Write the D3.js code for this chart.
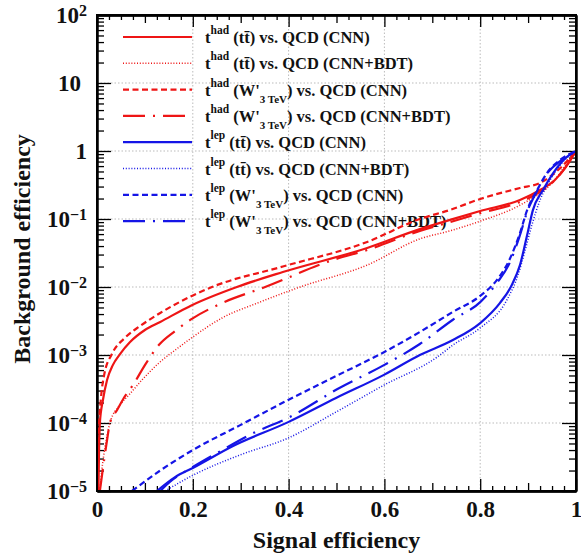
<!DOCTYPE html>
<html>
<head>
<meta charset="utf-8">
<script src="https://cdn.jsdelivr.net/npm/d3@7"></script>
<style>
  body { margin: 0; background: #fff; }
</style>
</head>
<body>
<div id="chart"></div>
<script>
// courbes ROC : efficacite signal (x) / efficacite bruit de fond (y)
var hadTtCnnX = [0.003, 0.004, 0.006, 0.0125, 0.021, 0.033, 0.048, 0.069, 0.100, 0.132, 0.198, 0.292, 0.388, 0.564, 0.674, 0.737, 0.80, 0.883, 0.925, 0.956, 0.977, 1.0];
var hadTtCnnY = [1e-5, 3e-5, 1.0e-4, 2.2e-4, 4.3e-4, 7.1e-4, 1.03e-3, 1.55e-3, 2.33e-3, 3.06e-3, 5.4e-3, 1.0e-2, 1.66e-2, 3.75e-2, 7.1e-2, 9.7e-2, 0.131, 0.19, 0.267, 0.375, 0.56, 1.0];

var hadTtBdtX = [0.006, 0.010, 0.017, 0.027, 0.048, 0.067, 0.094, 0.129, 0.171, 0.20, 0.261, 0.34, 0.424, 0.564, 0.674, 0.737, 0.80, 0.883, 0.952, 0.983, 1.0];
var hadTtBdtY = [1e-5, 2e-5, 4.5e-5, 1e-4, 1.84e-4, 2.6e-4, 4.3e-4, 7.6e-4, 1.3e-3, 1.84e-3, 3.5e-3, 6.0e-3, 1.0e-2, 2.1e-2, 5.1e-2, 6.7e-2, 9.3e-2, 0.16, 0.35, 0.69, 1.0];

var hadWpCnnX = [0.001, 0.004, 0.008, 0.015, 0.031, 0.058, 0.090, 0.132, 0.198, 0.24, 0.388, 0.564, 0.674, 0.737, 0.80, 0.883, 0.925, 0.967, 1.0];
var hadWpCnnY = [1e-5, 8e-5, 2.2e-4, 5.1e-4, 1.03e-3, 1.78e-3, 2.67e-3, 4.15e-3, 7.4e-3, 1.0e-2, 2.0e-2, 4.6e-2, 0.10, 0.136, 0.197, 0.286, 0.34, 0.56, 1.0];

var hadWpBdtX = [0.006, 0.015, 0.021, 0.027, 0.042, 0.056, 0.075, 0.100, 0.129, 0.163, 0.198, 0.261, 0.351, 0.493, 0.564, 0.674, 0.737, 0.80, 0.883, 0.925, 0.956, 0.977, 1.0];
var hadWpBdtY = [1e-5, 2.9e-5, 5.6e-5, 1.0e-4, 1.55e-4, 2.33e-4, 3.6e-4, 7.1e-4, 1.4e-3, 2.25e-3, 3.4e-3, 5.8e-3, 1.0e-2, 2.5e-2, 3.5e-2, 6.7e-2, 9.0e-2, 0.122, 0.178, 0.25, 0.375, 0.56, 1.0];

var lepTtCnnX = [0.125, 0.163, 0.20, 0.284, 0.399, 0.499, 0.599, 0.674, 0.743, 0.80, 0.841, 0.866, 0.883, 0.898, 0.910, 0.931, 0.952, 0.981, 1.0];
var lepTtCnnY = [1e-5, 1.6e-5, 2.18e-5, 4.6e-5, 1.03e-4, 2.33e-4, 5.1e-4, 1.0e-3, 1.66e-3, 2.95e-3, 5.8e-3, 1.07e-2, 2.1e-2, 5.8e-2, 0.135, 0.267, 0.47, 0.82, 1.0];

var lepTtBdtX = [0.142, 0.20, 0.299, 0.399, 0.499, 0.599, 0.710, 0.743, 0.80, 0.856, 0.879, 0.894, 0.908, 0.925, 0.946, 0.971, 1.0];
var lepTtBdtY = [1e-5, 1.7e-5, 3.4e-5, 6.0e-5, 1.45e-4, 3.6e-4, 9.3e-4, 1.4e-3, 2.5e-3, 6.5e-3, 1.5e-2, 3.5e-2, 8.2e-2, 0.19, 0.375, 0.67, 1.0];

var lepWpCnnX = [0.073, 0.132, 0.20, 0.299, 0.399, 0.499, 0.599, 0.674, 0.743, 0.80, 0.835, 0.862, 0.883, 0.898, 0.919, 0.939, 0.967, 1.0];
var lepWpCnnY = [1e-5, 2.0e-5, 4.0e-5, 9.3e-5, 2.18e-4, 4.9e-4, 1.1e-3, 2.18e-3, 4.3e-3, 7.4e-3, 1.27e-2, 2.6e-2, 6.2e-2, 0.135, 0.267, 0.47, 0.74, 1.0];

var lepWpBdtX = [0.132, 0.152, 0.20, 0.25, 0.326, 0.399, 0.507, 0.599, 0.674, 0.743, 0.80, 0.835, 0.862, 0.883, 0.898, 0.919, 0.939, 0.967, 1.0];
var lepWpBdtY = [1e-5, 1.36e-5, 2.25e-5, 3.6e-5, 7.1e-5, 1.19e-4, 3.3e-4, 7.1e-4, 1.45e-3, 3.3e-3, 6.0e-3, 1.15e-2, 2.3e-2, 5.8e-2, 0.127, 0.26, 0.46, 0.71, 1.0];

// graduations
var xMajor = [0, 0.2, 0.4, 0.6, 0.8, 1];
var yMajor = [1e-5, 1e-4, 1e-3, 1e-2, 1e-1, 1, 10, 100];

// Dimensions du graphique et marges
var margin = {top: 15, right: 5, bottom: 69, left: 97},
    width = 581 - margin.left - margin.right,
    height = 560 - margin.top - margin.bottom;

var FONT = "Liberation Serif";
var red = "#ee1515", blue = "#1515e6";
var solid = null, dotted = "1,1.8", dashed = "6,3.5", longdot = "22,8,2,8";

var series = [
  {x: hadTtCnnX, y: hadTtCnnY, color: red,  dash: solid,   w: 2.2, top: "had", sig: "tt", method: "CNN"},
  {x: hadTtBdtX, y: hadTtBdtY, color: red,  dash: dotted,  w: 1.5, top: "had", sig: "tt", method: "CNN+BDT"},
  {x: hadWpCnnX, y: hadWpCnnY, color: red,  dash: dashed,  w: 2.2, top: "had", sig: "wp", method: "CNN"},
  {x: hadWpBdtX, y: hadWpBdtY, color: red,  dash: longdot, w: 2.2, top: "had", sig: "wp", method: "CNN+BDT"},
  {x: lepTtCnnX, y: lepTtCnnY, color: blue, dash: solid,   w: 2.2, top: "lep", sig: "tt", method: "CNN"},
  {x: lepTtBdtX, y: lepTtBdtY, color: blue, dash: dotted,  w: 1.5, top: "lep", sig: "tt", method: "CNN+BDT"},
  {x: lepWpCnnX, y: lepWpCnnY, color: blue, dash: dashed,  w: 2.2, top: "lep", sig: "wp", method: "CNN"},
  {x: lepWpBdtX, y: lepWpBdtY, color: blue, dash: longdot, w: 2.2, top: "lep", sig: "wp", method: "CNN+BDT"}
];

// Ajout du svg
var svg = d3.select("#chart")
  .append("svg")
    .attr("width", width + margin.left + margin.right)
    .attr("height", height + margin.top + margin.bottom)
  .append("g")
    .attr("transform", "translate(" + margin.left + "," + margin.top + ")");

var x = d3.scaleLinear().domain([0, 1]).range([0, width]);
var y = d3.scaleLog().domain([1e-5, 1e2]).range([height, 0]);

// grille pointillee
svg.append("g").selectAll("line")
  .data(xMajor.slice(1, -1)).enter().append("line")
    .attr("x1", d => x(d)).attr("x2", d => x(d))
    .attr("y1", 0).attr("y2", height)
    .attr("stroke", "#bbb").attr("stroke-dasharray", "1.5,2");
svg.append("g").selectAll("line")
  .data(yMajor.slice(1, -1)).enter().append("line")
    .attr("y1", d => y(d)).attr("y2", d => y(d))
    .attr("x1", 0).attr("x2", width)
    .attr("stroke", "#bbb").attr("stroke-dasharray", "1.5,2");

// ticks secondaires
var xMedium = d3.range(0.1, 1, 0.2);
var xMinor = d3.range(0, 41).map(i => i * 0.025).filter((d, i) => i % 4 != 0);
var yMinor = [];
yMajor.slice(0, -1).forEach(function(dec) {
  for (var k = 2; k <= 9; k++) yMinor.push(k * dec);
});

function styleAxis(g) {
  g.select(".domain").attr("stroke-width", 2);
  g.selectAll(".tick line").attr("stroke", "#000").attr("stroke-width", 1.3);
}

// petite aide pour le texte en gras serif
function serif(sel, size) {
  return sel.attr("font-family", FONT).attr("font-weight", "bold")
    .attr("font-size", size).attr("fill", "#111");
}

// Axe X (bas + haut)
[[xMinor, 5], [xMedium, 8], [xMajor, 12]].forEach(function(t) {
  svg.append("g")
    .attr("transform", "translate(0," + height + ")")
    .call(d3.axisBottom(x).tickValues(t[0]).tickSize(-t[1]).tickSizeOuter(0).tickFormat(""))
    .call(styleAxis);
  svg.append("g")
    .call(d3.axisTop(x).tickValues(t[0]).tickSize(-t[1]).tickSizeOuter(0).tickFormat(""))
    .call(styleAxis);
});

svg.append("g")
  .attr("transform", "translate(0," + height + ")")
  .call(d3.axisBottom(x).tickValues(xMajor).tickSize(0).tickSizeOuter(0).tickPadding(10)
    .tickFormat(d => (d == 0 || d == 1) ? String(d) : d3.format(".1f")(d)))
  .call(g => g.select(".domain").remove())
  .selectAll("text")
    .call(serif, 23);

// Axe Y (gauche + droite)
[[yMinor, 7], [yMajor, 14]].forEach(function(t) {
  svg.append("g")
    .call(d3.axisLeft(y).tickValues(t[0]).tickSize(-t[1]).tickSizeOuter(0).tickFormat(""))
    .call(styleAxis);
  svg.append("g")
    .attr("transform", "translate(" + width + ",0)")
    .call(d3.axisRight(y).tickValues(t[0]).tickSize(-t[1]).tickSizeOuter(0).tickFormat(""))
    .call(styleAxis);
});

var yLab = svg.append("g")
  .call(d3.axisLeft(y).tickValues(yMajor).tickSize(0).tickSizeOuter(0).tickPadding(10).tickFormat(""))
  .call(g => g.select(".domain").remove());

yLab.selectAll(".tick text").each(function(d) {
  var t = d3.select(this).call(serif, 23);
  var e = Math.round(Math.log10(d));
  if (e == 0) { t.text("1"); return; }
  if (e == 1) { t.text("10").attr("dx", -6); return; }
  t.append("tspan").text("10");
  t.append("tspan").attr("dy", "-0.45em").attr("font-size", 16)
    .text(e < 0 ? "\u2212" + (-e) : String(e));
});

// titres des axes
svg.append("text")
  .attr("x", x(0.5)).attr("y", 548 - margin.top)
  .attr("text-anchor", "middle")
  .call(serif, 24)
  .text("Signal efficiency");

svg.append("text")
  .attr("transform", "translate(" + (30 - margin.left) + "," + (249 - margin.top) + ") rotate(-90)")
  .attr("text-anchor", "middle")
  .call(serif, 24)
  .text("Background efficiency");

// Legende
var legend = svg.append("g");
series.forEach(function(s, i) {
  var ly = 37 - margin.top + i * 26.3;
  legend.append("line")
    .attr("x1", 123 - margin.left).attr("x2", 192 - margin.left)
    .attr("y1", ly).attr("y2", ly)
    .attr("stroke", s.color).attr("stroke-width", s.w)
    .attr("stroke-dasharray", s.dash);
  var t = legend.append("text")
    .attr("x", 205 - margin.left).attr("y", ly + 6)
    .call(serif, 16.5);
  t.append("tspan").text("t");
  t.append("tspan").attr("dy", -9).attr("font-size", 11.5).text(s.top);
  if (s.sig == "tt") {
    t.append("tspan").attr("dy", 9).text(" (tt\u0304) vs. QCD (" + s.method + ")");
  } else {
    t.append("tspan").attr("dy", 9).text(" (W'");
    t.append("tspan").attr("dy", 7).attr("font-size", 11).text("3 TeV");
    t.append("tspan").attr("dy", -7).text(") vs. QCD (" + s.method + ")");
  }
});

// courbes
svg.append("clipPath").attr("id", "clip")
  .append("rect").attr("width", width).attr("height", height);

var line = d3.line()
  .x(d => x(d[0]))
  .y(d => y(d[1]))
  .curve(d3.curveMonotoneX);

svg.append("g").attr("clip-path", "url(#clip)")
  .selectAll("path")
  .data(series).enter().append("path")
    .attr("d", s => line(s.x.map((v, i) => [v, s.y[i]])))
    .attr("fill", "none")
    .attr("stroke", s => s.color)
    .attr("stroke-width", s => s.w)
    .attr("stroke-dasharray", s => s.dash);

// cadre
svg.append("rect")
  .attr("width", width).attr("height", height)
  .attr("fill", "none").attr("stroke", "#000").attr("stroke-width", 2);
</script>
</body>
</html>
